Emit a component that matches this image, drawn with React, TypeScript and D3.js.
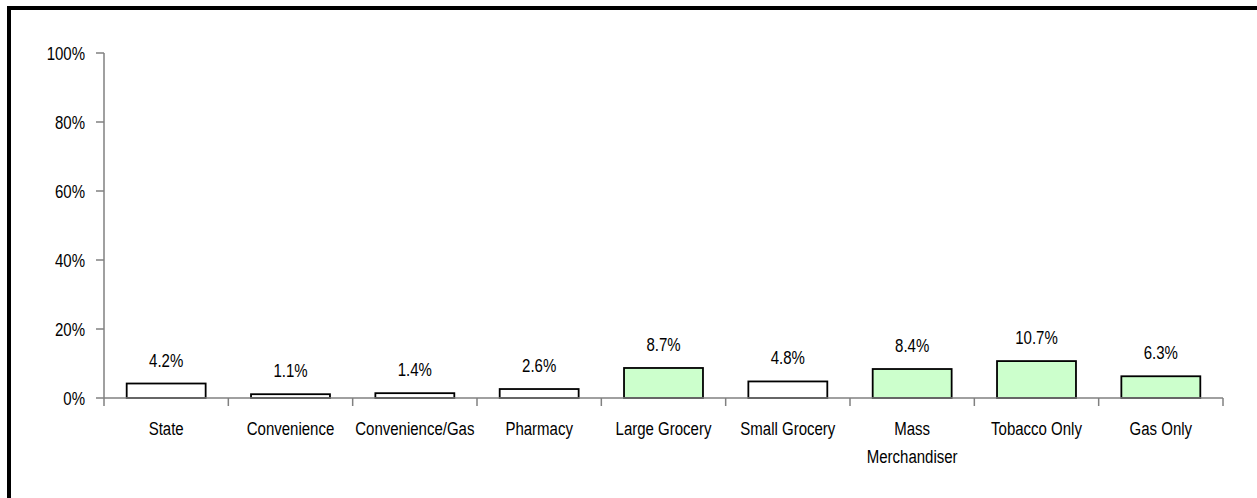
import React, { useEffect, useRef } from "react";
import * as d3 from "d3";

const categories: string[] = [
  "State",
  "Convenience",
  "Convenience/Gas",
  "Pharmacy",
  "Large Grocery",
  "Small Grocery",
  "Mass Merchandiser",
  "Tobacco Only",
  "Gas Only",
];
const values: number[] = [4.2, 1.1, 1.4, 2.6, 8.7, 4.8, 8.4, 10.7, 6.3];
const highlighted: boolean[] = [false, false, false, false, true, false, true, true, true];
const yTicks: number[] = [0, 20, 40, 60, 80, 100];

const WIDTH = 1257;
const HEIGHT = 498;
const FONT = "'Liberation Sans', Arial, sans-serif";
const FONT_SIZE = 19;
const NARROW = 0.79; // horizontal squeeze for a condensed look

type G = d3.Selection<any, unknown, null, undefined>;

// condensed text placed at (x, y) with the given anchor
function addText(g: G, x: number, y: number, str: string | null, anchor: string) {
  const t = g
    .append("text")
    .attr("transform", `translate(${x},${y}) scale(${NARROW},1)`)
    .attr("text-anchor", anchor)
    .attr("font-family", FONT)
    .attr("font-size", FONT_SIZE)
    .attr("fill", "#000");
  if (str !== null) t.text(str);
  return t;
}

export default function App() {
  const ref = useRef<SVGSVGElement | null>(null);

  useEffect(() => {
    const svg = d3.select(ref.current) as unknown as G;
    svg.selectAll("*").remove();

    const x = d3
      .scaleBand<string>()
      .domain(categories)
      .range([104, 1223])
      .paddingInner(0.365)
      .paddingOuter(0.1825);
    const step = x.step();
    const y = d3.scaleLinear().domain([0, 100]).range([398, 53]);

    // frame along the top and left edges
    svg
      .append("path")
      .attr("d", `M9,${HEIGHT} V8 H${WIDTH}`)
      .attr("fill", "none")
      .attr("stroke", "#000")
      .attr("stroke-width", 4);

    const axisColor = "#808080";

    // value axis
    svg
      .append("line")
      .attr("x1", 104)
      .attr("x2", 104)
      .attr("y1", y(100))
      .attr("y2", y(0))
      .attr("stroke", axisColor)
      .attr("stroke-width", 1.5);

    const yt = svg.append("g");
    yTicks.forEach((t) => {
      yt.append("line")
        .attr("x1", 96)
        .attr("x2", 104)
        .attr("y1", y(t))
        .attr("y2", y(t))
        .attr("stroke", axisColor)
        .attr("stroke-width", 1.5);
      addText(yt, 85, y(t) + 7, `${t}%`, "end");
    });

    // bars with value labels
    const bars = svg.append("g");
    categories.forEach((c, i) => {
      const v = values[i];
      bars
        .append("rect")
        .attr("x", x(c)!)
        .attr("y", y(v))
        .attr("width", x.bandwidth())
        .attr("height", y(0) - y(v))
        .attr("fill", highlighted[i] ? "#CCFFCC" : "#FFFFFF")
        .attr("stroke", "#000")
        .attr("stroke-width", 1.8);
      addText(bars, x(c)! + x.bandwidth() / 2, y(v) - 17, `${v.toFixed(1)}%`, "middle");
    });

    // category axis
    svg
      .append("line")
      .attr("x1", 104)
      .attr("x2", 1223)
      .attr("y1", y(0))
      .attr("y2", y(0))
      .attr("stroke", axisColor)
      .attr("stroke-width", 1.5);

    for (let i = 0; i <= categories.length; i++) {
      const tx = 104 + i * step;
      svg
        .append("line")
        .attr("x1", tx)
        .attr("x2", tx)
        .attr("y1", y(0))
        .attr("y2", y(0) + 8)
        .attr("stroke", axisColor)
        .attr("stroke-width", 1.5);
    }

    // category labels, wrapped when wider than a band
    const labels = svg.append("g");
    categories.forEach((c) => {
      const cx = x(c)! + x.bandwidth() / 2;
      const text = addText(labels, cx, 435, c, "middle");
      const node = text.node() as SVGTextElement;
      if (node.getComputedTextLength() * NARROW > step - 2) {
        text.text(null);
        c.split(" ").forEach((w, k) => {
          text
            .append("tspan")
            .attr("x", 0)
            .attr("y", k * 28)
            .text(w);
        });
      }
    });
  }, []);

  return (
    <svg
      ref={ref}
      width={WIDTH}
      height={HEIGHT}
      style={{ position: "absolute", left: 0, top: 0, background: "#fff" }}
    />
  );
}
